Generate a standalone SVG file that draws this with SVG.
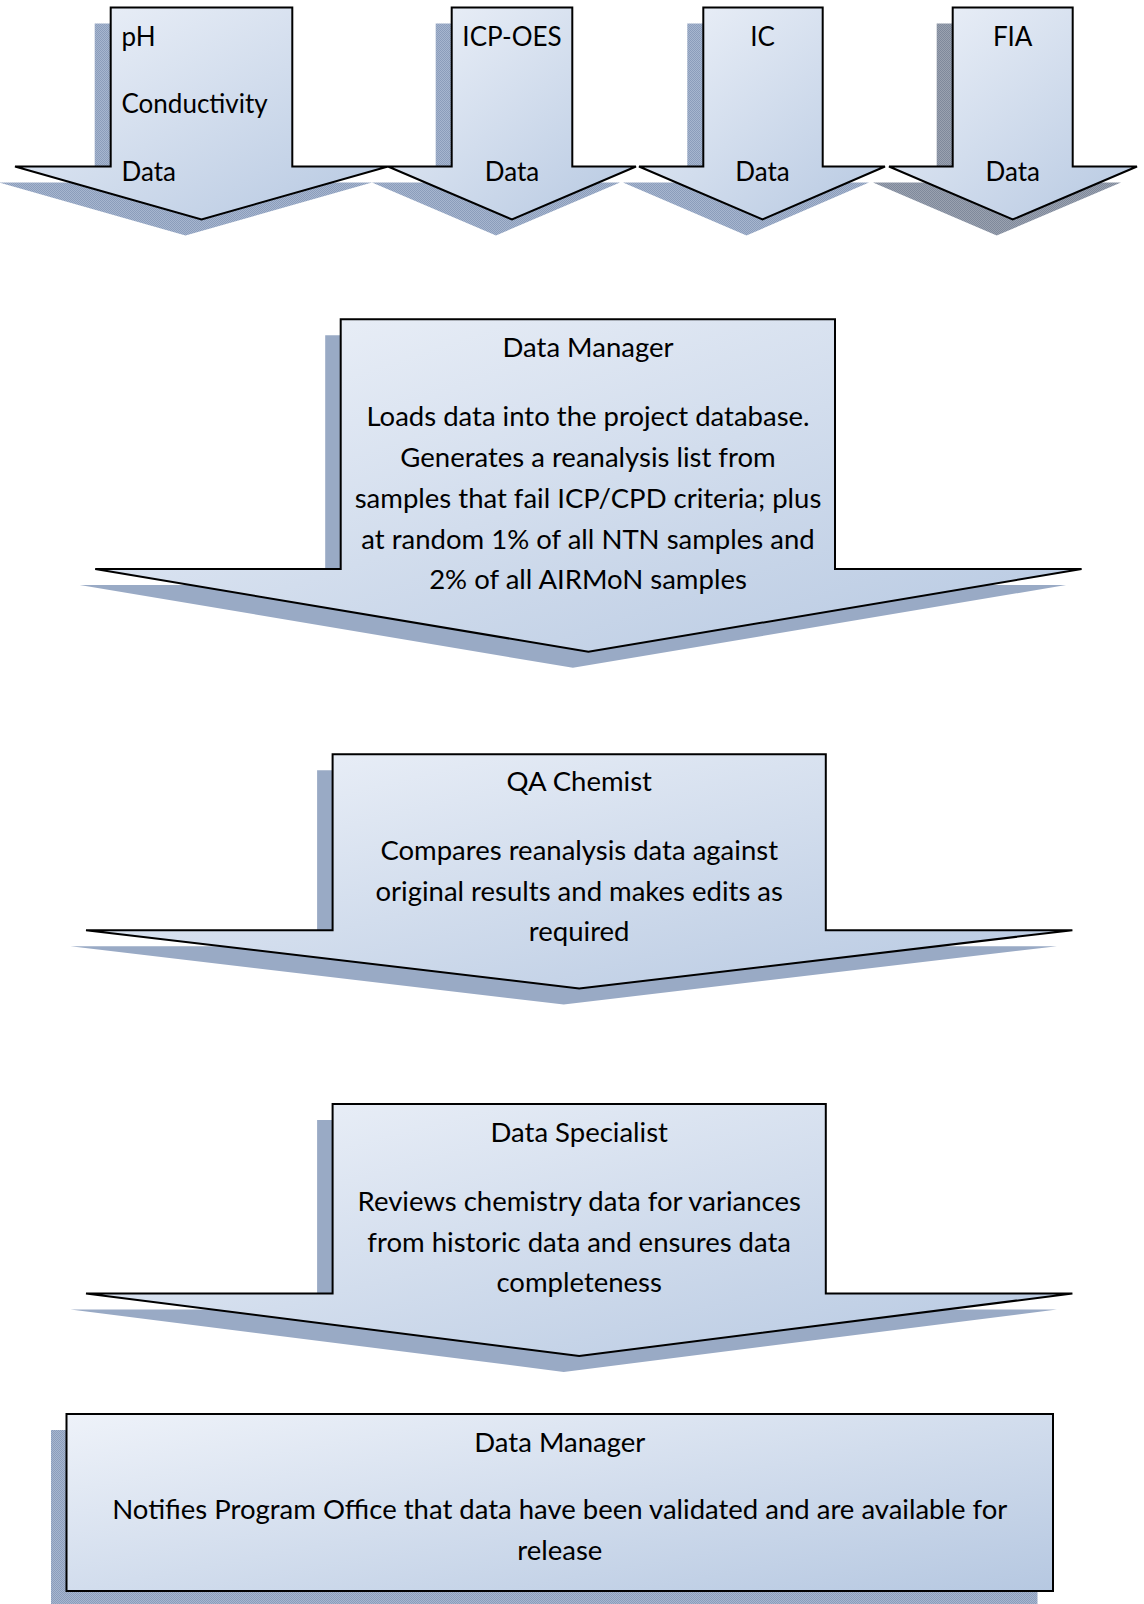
<svg xmlns="http://www.w3.org/2000/svg" width="1144" height="1604" viewBox="0 0 1144 1604">
<defs>
<linearGradient id="fillGrad" x1="0" y1="0" x2="1" y2="1">
<stop offset="0" stop-color="#eef2f9"/>
<stop offset="1" stop-color="#b6c8e1"/>
</linearGradient>
<pattern id="shadowPat" width="2" height="2" patternUnits="userSpaceOnUse">
<rect width="2" height="2" fill="#a7b6cf"/>
<rect width="1" height="1" fill="#8b9dbb"/>
<rect x="1" y="1" width="1" height="1" fill="#8b9dbb"/>
</pattern>
<pattern id="shadowPatGray" width="2" height="2" patternUnits="userSpaceOnUse">
<rect width="2" height="2" fill="#9aa2b0"/>
<rect width="1" height="1" fill="#7f899b"/>
<rect x="1" y="1" width="1" height="1" fill="#7f899b"/>
</pattern>
</defs>
<style>
.shape{fill:url(#fillGrad);stroke:#000;stroke-width:2;stroke-linejoin:miter}
.shadow{fill:url(#shadowPat);stroke:none}
.shadowg{fill:url(#shadowPatGray);stroke:none}
text{font-family:Lato,"Liberation Sans",sans-serif;font-size:27.5px;fill:#000}
.t{font-size:26px}
.c{text-anchor:middle}
</style>
<rect width="1144" height="1604" fill="#fff"/>

<g id="arrow-ph">
<polygon class="shadow" transform="translate(-16,16)" points="110.7,7.5 292.3,7.5 292.3,166.5 388,166.5 201.5,219.5 15,166.5 110.7,166.5"/>
<polygon class="shape" points="110.7,7.5 292.3,7.5 292.3,166.5 388,166.5 201.5,219.5 15,166.5 110.7,166.5"/>
<text class="t" x="121.5" y="46">pH</text>
<text class="t" x="121.5" y="113">Conductivity</text>
<text class="t" x="121.5" y="181">Data</text>
</g>

<g id="arrow-icpoes">
<polygon class="shadow" transform="translate(-16,16)" points="451.7,7.5 572.3,7.5 572.3,166.5 636,166.5 512,219.5 388,166.5 451.7,166.5"/>
<polygon class="shape" points="451.7,7.5 572.3,7.5 572.3,166.5 636,166.5 512,219.5 388,166.5 451.7,166.5"/>
<text class="t c" x="512" y="46">ICP-OES</text>
<text class="t c" x="512" y="181">Data</text>
</g>

<g id="arrow-ic">
<polygon class="shadow" transform="translate(-16,16)" points="703.3,7.5 822.7,7.5 822.7,166.5 885,166.5 762.5,219.5 639,166.5 703.3,166.5"/>
<polygon class="shape" points="703.3,7.5 822.7,7.5 822.7,166.5 885,166.5 762.5,219.5 639,166.5 703.3,166.5"/>
<text class="t c" x="762.5" y="46">IC</text>
<text class="t c" x="762.5" y="181">Data</text>
</g>

<g id="arrow-fia">
<polygon class="shadowg" transform="translate(-16,16)" points="952.7,7.5 1072.7,7.5 1072.7,166.5 1137,166.5 1012.7,219.5 889,166.5 952.7,166.5"/>
<polygon class="shape" points="952.7,7.5 1072.7,7.5 1072.7,166.5 1137,166.5 1012.7,219.5 889,166.5 952.7,166.5"/>
<text class="t c" x="1012.7" y="46">FIA</text>
<text class="t c" x="1012.7" y="181">Data</text>
</g>

<g id="data-manager-load">
<polygon class="shadow" transform="translate(-15.5,16)" points="340.7,319.3 835,319.3 835,569 1081.6,569 588.4,651.8 95.2,569 340.7,569"/>
<polygon class="shape" points="340.7,319.3 835,319.3 835,569 1081.6,569 588.4,651.8 95.2,569 340.7,569"/>
<text class="c" x="588" y="357">Data Manager</text>
<text class="c" x="588" y="425.7">Loads data into the project database.</text>
<text class="c" x="588" y="466.6">Generates a reanalysis list from</text>
<text class="c" x="588" y="507.6">samples that fail ICP/CPD criteria; plus</text>
<text class="c" x="588" y="548.5">at random 1% of all NTN samples and</text>
<text class="c" x="588" y="589.4">2% of all AIRMoN samples</text>
</g>

<g id="qa-chemist">
<polygon class="shadow" transform="translate(-15.5,16)" points="332.6,754.2 825.8,754.2 825.8,930.2 1072.4,930.2 579.2,988.5 86,930.2 332.6,930.2"/>
<polygon class="shape" points="332.6,754.2 825.8,754.2 825.8,930.2 1072.4,930.2 579.2,988.5 86,930.2 332.6,930.2"/>
<text class="c" x="579.2" y="791">QA Chemist</text>
<text class="c" x="579.2" y="859.6">Compares reanalysis data against</text>
<text class="c" x="579.2" y="900.5">original results and makes edits as</text>
<text class="c" x="579.2" y="941.4">required</text>
</g>

<g id="data-specialist">
<polygon class="shadow" transform="translate(-15.5,16)" points="332.6,1104.1 825.8,1104.1 825.8,1293.5 1072.4,1293.5 579.2,1355.9 86,1293.5 332.6,1293.5"/>
<polygon class="shape" points="332.6,1104.1 825.8,1104.1 825.8,1293.5 1072.4,1293.5 579.2,1355.9 86,1293.5 332.6,1293.5"/>
<text class="c" x="579.2" y="1142">Data Specialist</text>
<text class="c" x="579.2" y="1210.6">Reviews chemistry data for variances</text>
<text class="c" x="579.2" y="1251.5">from historic data and ensures data</text>
<text class="c" x="579.2" y="1292.4">completeness</text>
</g>

<g id="data-manager-release">
<rect class="shadow" x="51" y="1430" width="986.5" height="177"/>
<rect class="shape" x="66.5" y="1414" width="986.5" height="177"/>
<text class="c" x="559.8" y="1452">Data Manager</text>
<text class="c" x="559.8" y="1518.6">Notifies Program Office that data have been validated and are available for</text>
<text class="c" x="559.8" y="1560">release</text>
</g>

<g id="connectors"></g>
</svg>
